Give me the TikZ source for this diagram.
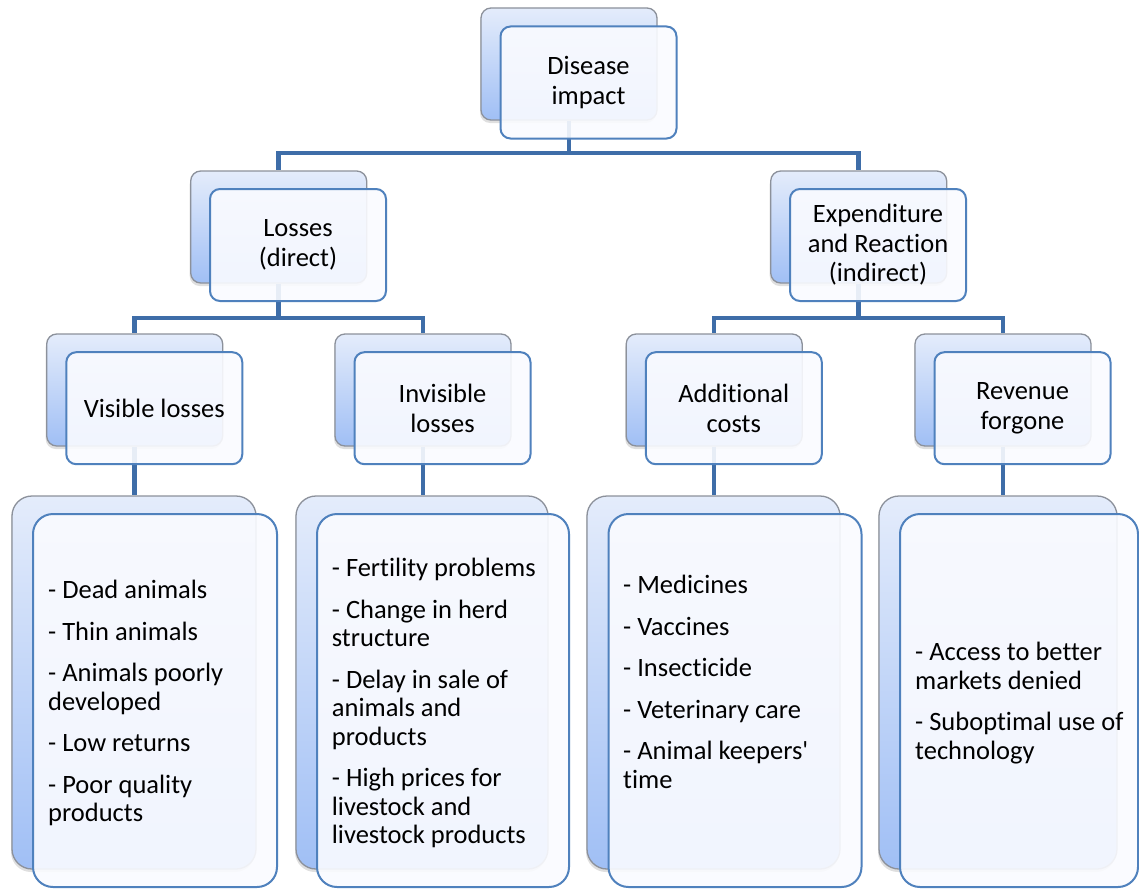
\documentclass[tikz,border=0pt]{standalone}
\usepackage{fontspec}
\setmainfont{Carlito}[Ligatures={TeXOff,CommonOff}]
\usetikzlibrary{shadows}
\definecolor{connc}{RGB}{62,109,168}
\definecolor{frontline}{RGB}{79,129,189}
\definecolor{frontfill}{RGB}{250,251,255}
\definecolor{backtop}{RGB}{228,236,251}
\definecolor{backbot}{RGB}{160,191,245}
\definecolor{backline}{RGB}{140,145,155}
\tikzset{
  backbox/.style={draw=backline, line width=1.3pt, rounded corners=10pt,
    top color=backtop, bottom color=backbot, inner sep=0pt,
    drop shadow={shadow xshift=-1pt, shadow yshift=-3pt, opacity=0.25}},
  frontbox/.style={draw=frontline, line width=2pt, rounded corners=10pt,
    fill=frontfill, fill opacity=0.9, text opacity=1, align=center, inner sep=0pt,
    font=\fontsize{26.5}{29.5}\selectfont},
  smallsize/.style={minimum width=176pt, minimum height=112pt},
  leafsize/.style={minimum height=373pt, rounded corners=20pt},
  leaftext/.style={anchor=north west, align=left, inner sep=0pt,
    font=\fontsize{26.5}{28.5}\selectfont},
  connector/.style={draw=connc, line width=4.5pt},
}
\begin{document}
\begin{tikzpicture}[x=1pt, y=-1pt]
\useasboundingbox (0,0) rectangle (1139,888);
\fill[white] (0,0) rectangle (1139,888);

% coordinates of the bars
\coordinate (b1) at (569,153);
\coordinate (b2) at (278.7,318);
\coordinate (b3) at (858.7,318);

% back boxes (level 1-3)
\node[backbox, smallsize] (dB) at (569,64) {};
\node[backbox, smallsize] (lB) at (278.7,227) {};
\node[backbox, smallsize] (eB) at (858.7,227) {};
\node[backbox, smallsize] (vB) at (134.7,390) {};
\node[backbox, smallsize] (iB) at (423,390) {};
\node[backbox, smallsize] (aB) at (714.2,390) {};
\node[backbox, smallsize] (rB) at (1003,390) {};

% leaf back boxes
\node[backbox, leafsize, minimum width=244pt] (vlB) at (134,682.5) {};
\node[backbox, leafsize, minimum width=252pt] (ilB) at (422,682.5) {};
\node[backbox, leafsize, minimum width=253pt] (alB) at (713.5,682.5) {};
\node[backbox, leafsize, minimum width=238pt] (rlB) at (998,682.5) {};

% connectors
\draw[connector] (dB.south) -- (b1) -| (lB.north);
\draw[connector] (b1) -| (eB.north);
\draw[connector] (lB.south) -- (b2) -| (vB.north);
\draw[connector] (b2) -| (iB.north);
\draw[connector] (eB.south) -- (b3) -| (aB.north);
\draw[connector] (b3) -| (rB.north);
\draw[connector] (vB.south) -- (vB.south |- vlB.north);
\draw[connector] (iB.south) -- (iB.south |- ilB.north);
\draw[connector] (aB.south) -- (aB.south |- alB.north);
\draw[connector] (rB.south) -- (rB.south |- rlB.north);

% front boxes
\node[frontbox, smallsize] (d) at (588.5,82.5) {Disease\\impact};
\node[frontbox, smallsize] (l) at (298,245) {Losses\\(direct)};
\node[frontbox, smallsize] (e) at (878,245) {Expenditure\\and Reaction\\(indirect)};
\node[frontbox, smallsize] (v) at (154.3,408.2) {Visible losses};
\node[frontbox, smallsize] (i) at (442.5,408.2) {Invisible\\losses};
\node[frontbox, smallsize] (a) at (733.8,408.2) {Additional\\costs};
\node[frontbox, smallsize] (r) at (1022.5,408.2) {Revenue\\forgone};

% leaf front boxes
\node[frontbox, leafsize, minimum width=244pt] (vl) at (155,700.5) {};
\node[frontbox, leafsize, minimum width=252pt] (il) at (443,700.5) {};
\node[frontbox, leafsize, minimum width=253pt] (al) at (735,700.5) {};
\node[frontbox, leafsize, minimum width=238pt] (rl) at (1019,700.5) {};

% leaf texts
\node[leaftext] (vt) at (48,580) {- Dead animals\\[13pt]- Thin animals\\[13pt]- Animals poorly\\developed\\[13pt]- Low returns\\[13pt]- Poor quality\\products};
\node[leaftext] (it) at (331.7,558) {- Fertility problems\\[13pt]- Change in herd\\structure\\[13pt]- Delay in sale of\\animals and\\products\\[13pt]- High prices for\\livestock and\\livestock products};
\node[leaftext] (at) at (623,575) {- Medicines\\[13pt]- Vaccines\\[13pt]- Insecticide\\[13pt]- Veterinary care\\[13pt]- Animal keepers'\\time};
\node[leaftext] (rt) at (915,642) {- Access to better\\markets denied\\[13pt]- Suboptimal use of\\technology};
\end{tikzpicture}
\end{document}
